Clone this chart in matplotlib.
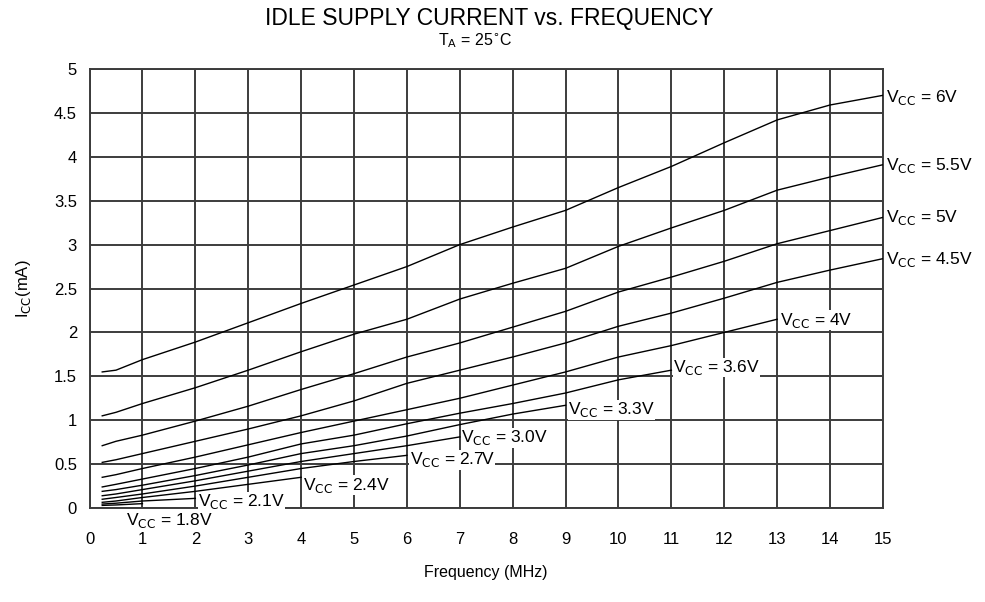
import matplotlib
matplotlib.use("Agg")
import matplotlib.pyplot as plt

plt.rcParams['font.family'] = ['Liberation Sans', 'DejaVu Sans']

# supply current (mA) against clock frequency (MHz), one curve per VCC
freq = [0.24, 0.5, 1, 2, 3, 4, 5, 6, 7, 8, 9, 10, 11, 12, 13, 14, 15]

icc_6v0 = [1.55, 1.57, 1.69, 1.89, 2.11, 2.33, 2.54, 2.75, 3.00, 3.20, 3.39, 3.65, 3.89, 4.16, 4.42, 4.59, 4.70]
icc_5v5 = [1.05, 1.09, 1.19, 1.37, 1.57, 1.78, 1.98, 2.15, 2.38, 2.56, 2.73, 2.98, 3.19, 3.39, 3.62, 3.77, 3.91]
icc_5v0 = [0.71, 0.76, 0.83, 0.99, 1.16, 1.35, 1.53, 1.72, 1.88, 2.06, 2.24, 2.46, 2.63, 2.81, 3.01, 3.16, 3.31]
icc_4v5 = [0.52, 0.55, 0.62, 0.76, 0.90, 1.05, 1.22, 1.42, 1.57, 1.72, 1.88, 2.07, 2.22, 2.39, 2.57, 2.71, 2.84]
icc_4v0 = [0.35, 0.38, 0.45, 0.58, 0.72, 0.86, 0.99, 1.12, 1.25, 1.40, 1.55, 1.72, 1.85, 2.00, 2.15]
icc_3v6 = [0.24, 0.27, 0.33, 0.45, 0.58, 0.73, 0.83, 0.96, 1.08, 1.19, 1.31, 1.46, 1.57]
icc_3v3 = [0.19, 0.21, 0.26, 0.37, 0.49, 0.62, 0.71, 0.82, 0.95, 1.07, 1.17]
icc_3v0 = [0.14, 0.16, 0.21, 0.31, 0.42, 0.53, 0.62, 0.71, 0.81]
icc_2v7 = [0.10, 0.12, 0.16, 0.25, 0.35, 0.45, 0.53, 0.60]
icc_2v4 = [0.065, 0.08, 0.12, 0.19, 0.27, 0.35]
icc_2v1 = [0.045, 0.055, 0.08, 0.11]
icc_1v8 = [0.03, 0.035, 0.05]

curves = [
    ("6V", icc_6v0), ("5.5V", icc_5v5), ("5V", icc_5v0), ("4.5V", icc_4v5),
    ("4V", icc_4v0), ("3.6V", icc_3v6), ("3.3V", icc_3v3), ("3.0V", icc_3v0),
    ("2.7V", icc_2v7), ("2.4V", icc_2v4), ("2.1V", icc_2v1), ("1.8V", icc_1v8),
]

# where each label sits (left edge, vertical centre) in data units
label_pos = {
    "6V": (15.05, 4.68), "5.5V": (15.05, 3.90), "5V": (15.05, 3.31),
    "4.5V": (15.05, 2.83), "4V": (13.05, 2.14), "3.6V": (11.03, 1.60),
    "3.3V": (9.05, 1.12), "3.0V": (7.02, 0.80), "2.7V": (6.05, 0.55),
    "2.4V": (4.04, 0.26), "2.1V": (2.05, 0.07), "1.8V": (0.68, -0.14),
}

fig = plt.figure(figsize=(9.85, 6.02), dpi=100)
ax = fig.add_axes([0.0909, 0.1561, 0.8055, 0.7293])

grid_col = "#3c3c3c"
for name, vals in curves:
    ax.plot(freq[:len(vals)], vals, color="black", lw=1.0, zorder=3)
    lx, ly = label_pos[name]
    ax.text(lx, ly, r"V$_{\rm CC}$ = " + name, fontsize=12.5, va="center", ha="left",
            clip_on=False, zorder=4,
            bbox=dict(facecolor="white", edgecolor="none", pad=0.3))

ax.set_xlim(0, 15)
ax.set_ylim(0, 5)
ax.set_xticks(range(0, 16))
ax.set_yticks([0, 0.5, 1, 1.5, 2, 2.5, 3, 3.5, 4, 4.5, 5])
ax.set_yticklabels(["0", "0.5", "1", "1.5", "2", "2.5", "3", "3.5", "4", "4.5", "5"])
ax.tick_params(length=0, labelsize=12)
ax.tick_params(axis="x", pad=17)
ax.tick_params(axis="y", pad=9)
ax.grid(True, color=grid_col, lw=1.4, zorder=1)
for sp in ax.spines.values():
    sp.set_color(grid_col)
    sp.set_linewidth(1.4)
    sp.set_zorder(2)

ax.set_xlabel("Frequency (MHz)", fontsize=11.5, labelpad=13)
ax.set_ylabel(r"I$_{\rm CC}$(mA)", fontsize=12, labelpad=15)

fig.text(0.497, 0.969, "IDLE SUPPLY CURRENT vs. FREQUENCY", ha="center", va="center",
         fontsize=16.5)
fig.text(0.482, 0.933, r"T$_{\rm A}$ = 25$^{\circ}$C", ha="center", va="center",
         fontsize=11.5)

fig.savefig("out.png", dpi=100, facecolor="white")
